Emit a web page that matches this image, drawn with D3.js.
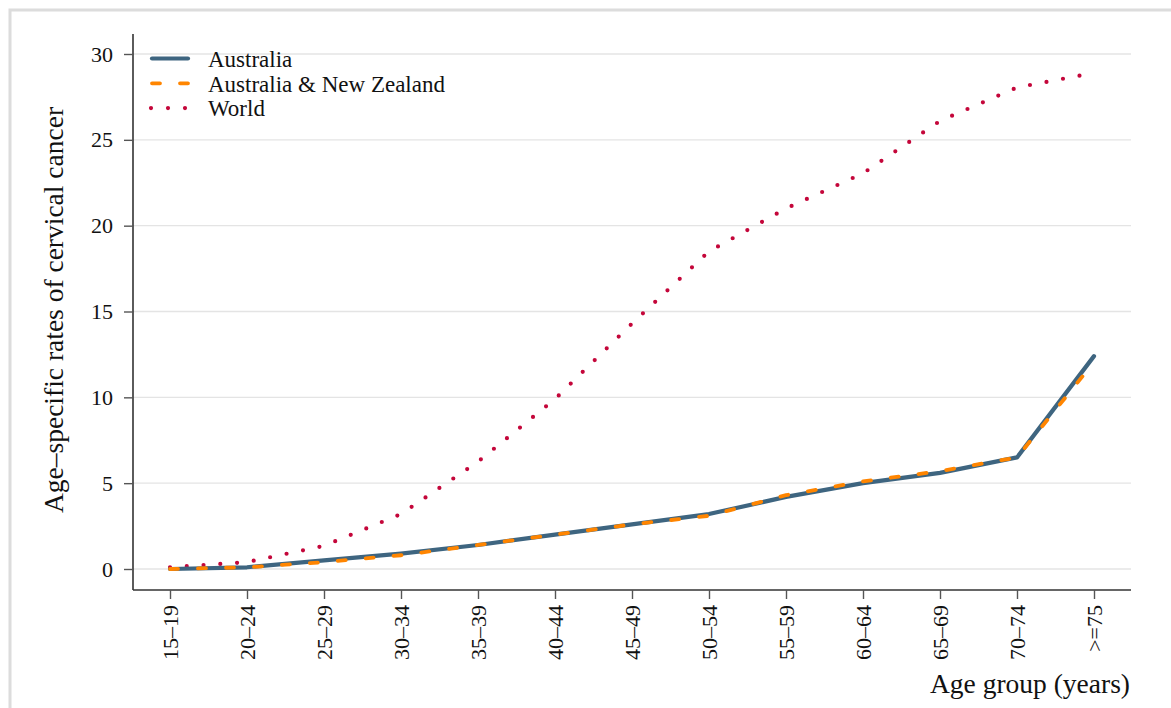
<!DOCTYPE html>
<html>
<head>
<meta charset="utf-8">
<script src="https://cdn.jsdelivr.net/npm/d3@7"></script>
<style>
  html, body { margin: 0; padding: 0; background: #fff; }
  svg { display: block; }
  text { font-family: "Liberation Serif", serif; fill: #111; }
</style>
</head>
<body>
<svg id="chart" width="1171" height="708"></svg>
<script>
const ageGroups = ["15–19","20–24","25–29","30–34","35–39","40–44","45–49","50–54","55–59","60–64","65–69","70–74",">=75"];
const australia = [0.0, 0.1, 0.5, 0.9, 1.4, 2.0, 2.6, 3.2, 4.2, 5.0, 5.6, 6.5, 12.4];
const ausNz     = [0.0, 0.1, 0.4, 0.8, 1.4, 2.0, 2.6, 3.1, 4.3, 5.1, 5.7, 6.5, 12.05];
const world     = [0.1, 0.4, 1.35, 3.2, 6.25, 9.9, 14.3, 18.5, 21.0, 23.05, 26.1, 28.05, 28.9];
const yTicks = [0, 5, 10, 15, 20, 25, 30];
const seriesNames = ["Australia", "Australia & New Zealand", "World"];

const svg = d3.select("#chart");

// outer frame
svg.append("path")
  .attr("d", "M10,708 L10,10 L1171,10")
  .attr("fill", "none").attr("stroke", "#dcdcdc").attr("stroke-width", 3);

const plot = { left: 133, right: 1131, top: 34, bottom: 590 };

const x = d3.scalePoint().domain(ageGroups).range([170, 1094]);
const y = d3.scaleLinear().domain([0, 30]).range([569, 54]);

// gridlines
svg.append("g").selectAll("line").data(yTicks).join("line")
  .attr("x1", plot.left).attr("x2", plot.right)
  .attr("y1", d => y(d)).attr("y2", d => y(d))
  .attr("stroke", "#e4e4e4").attr("stroke-width", 1.3);

// y axis
const yAxis = svg.append("g").attr("transform", `translate(${plot.left},0)`)
  .call(d3.axisLeft(y).tickValues(yTicks).tickSize(9).tickPadding(11));
yAxis.select(".domain").attr("d", `M0,${plot.top}V${plot.bottom}`).attr("stroke", "#333").attr("stroke-width", 1.6);
yAxis.selectAll(".tick line").attr("stroke", "#555").attr("stroke-width", 1.4);
yAxis.selectAll(".tick text").attr("font-size", 22).attr("font-family", "Liberation Serif").attr("fill", "#111");

// x axis
const xAxis = svg.append("g").attr("transform", `translate(0,${plot.bottom})`)
  .call(d3.axisBottom(x).tickSize(9).tickPadding(0));
xAxis.select(".domain").attr("d", `M${plot.left},0H${plot.right}`).attr("stroke", "#333").attr("stroke-width", 1.6);
xAxis.selectAll(".tick line").attr("stroke", "#555").attr("stroke-width", 1.4);
xAxis.selectAll(".tick text")
  .attr("font-size", 22).attr("font-family", "Liberation Serif").attr("fill", "#111")
  .attr("text-anchor", "end")
  .attr("transform", "translate(0,15) rotate(-90)")
  .attr("x", 0).attr("y", 0).attr("dy", "0.34em");

// axis titles
svg.append("text")
  .attr("x", plot.right - 1).attr("y", 693)
  .attr("text-anchor", "end").attr("font-size", 27.5)
  .text("Age group (years)");

svg.append("text")
  .attr("transform", "translate(63,310) rotate(-90)")
  .attr("text-anchor", "middle").attr("font-size", 27.5)
  .text("Age–specific rates of cervical cancer");

// lines
const line = d3.line().x((d, i) => x(ageGroups[i])).y(d => y(d));

svg.append("path").datum(world)
  .attr("d", line).attr("fill", "none")
  .attr("stroke", "#c4063a").attr("stroke-width", 4.2)
  .attr("stroke-linecap", "round").attr("stroke-dasharray", "0,16.8");

svg.append("path").datum(australia)
  .attr("d", line).attr("fill", "none")
  .attr("stroke", "#3e6580").attr("stroke-width", 4.2)
  .attr("stroke-linejoin", "round").attr("stroke-linecap", "round");

svg.append("path").datum(ausNz)
  .attr("d", line).attr("fill", "none")
  .attr("stroke", "#ff8500").attr("stroke-width", 3.8)
  .attr("stroke-linecap", "round").attr("stroke-dasharray", "8,20");

// legend
const legend = svg.append("g");
const rows = [
  { name: seriesNames[0], color: "#3e6580", dash: null, width: 4.2 },
  { name: seriesNames[1], color: "#ff8500", dash: "8,20", width: 3.8 },
  { name: seriesNames[2], color: "#c4063a", dash: "0,17", width: 4.2 }
];
rows.forEach((r, i) => {
  const yy = 58.5 + i * 24.8;
  const l = legend.append("line")
    .attr("x1", r.dash === "0,17" ? 151 : 152).attr("x2", r.dash === "0,17" ? 186 : 188)
    .attr("y1", yy).attr("y2", yy)
    .attr("stroke", r.color).attr("stroke-width", r.width)
    .attr("stroke-linecap", "round");
  if (r.dash) l.attr("stroke-dasharray", r.dash);
  legend.append("text")
    .attr("x", 208).attr("y", yy + 8.2)
    .attr("font-size", 23)
    .text(r.name);
});
</script>
</body>
</html>
